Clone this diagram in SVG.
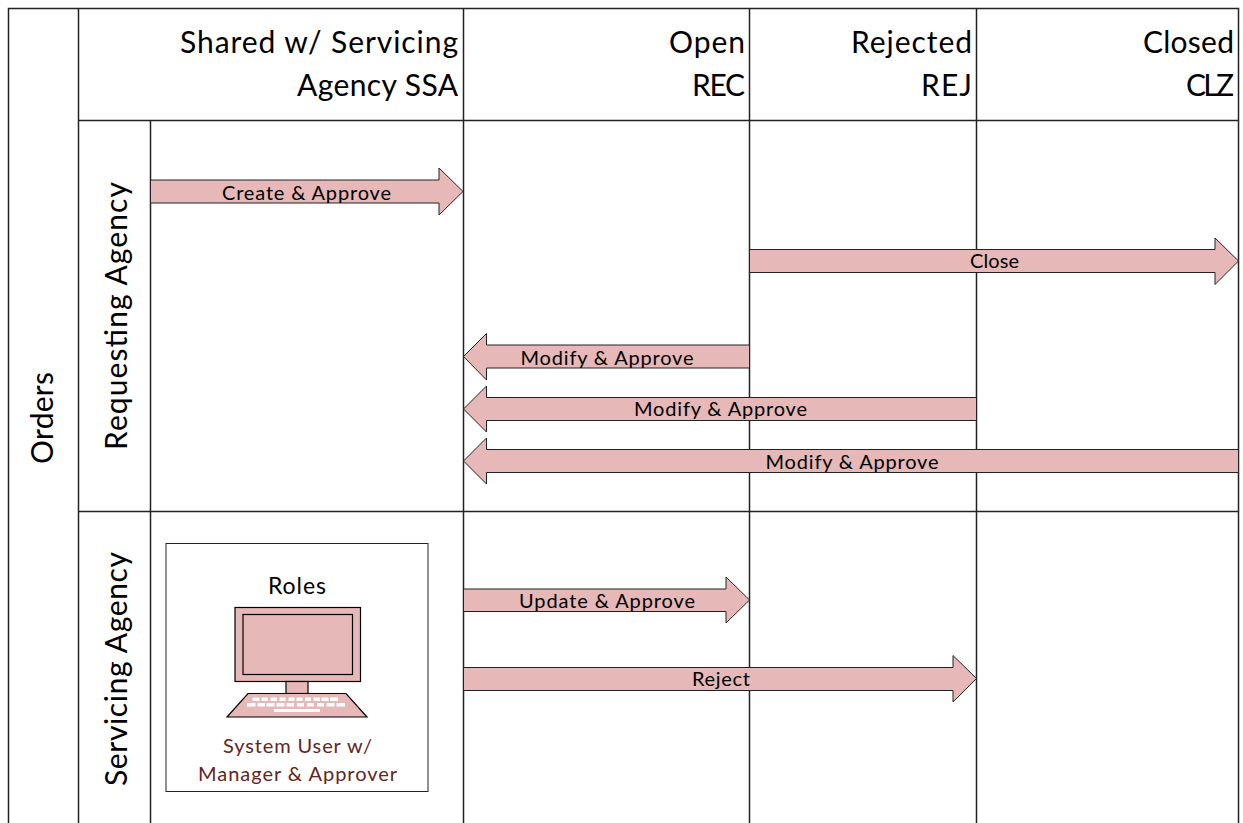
<svg xmlns="http://www.w3.org/2000/svg" width="1243" height="823" viewBox="0 0 1243 823">
<style>
text{font-family:Lato,"Open Sans",sans-serif;fill:#000}
.hd{font-size:30px;text-anchor:end}
.sw{font-size:30px;text-anchor:middle}
.lb{font-size:20px;text-anchor:middle}
.ln{stroke:#222;stroke-width:1.5;fill:none}
.ar{fill:#e6b8b7;stroke:#222;stroke-width:1}
.cp{fill:#e6b8b7;stroke:#000;stroke-width:1.2}
.k{fill:#fff}
</style>
<rect width="1243" height="823" fill="#fff"/>
<g id="grid">
<path class="ln" d="M8.500 823V8.500H1238.500V823M78.500 8.500V823M150.500 120.500V823M463.500 8.500V823M749.500 8.500V823M976.500 8.500V823M78.500 120.500H1238.500M78.500 511.500H1238.500"/>
</g>
<g id="pool-title"><text class="sw" textLength="92" transform="translate(53 418) rotate(-90)">Orders</text></g>
<g id="lane-requesting"><text class="sw" textLength="268" transform="translate(127 316) rotate(-90)">Requesting Agency</text></g>
<g id="lane-servicing"><text class="sw" textLength="234" transform="translate(127 669) rotate(-90)">Servicing Agency</text></g>
<g id="col-shared"><text class="hd" x="458" y="53" textLength="278">Shared w/ Servicing</text><text class="hd" x="458" y="96" textLength="161">Agency SSA</text></g>
<g id="col-open"><text class="hd" x="745" y="53" textLength="76">Open</text><text class="hd" x="745" y="96" textLength="53">REC</text></g>
<g id="col-rejected"><text class="hd" x="972" y="53" textLength="121">Rejected</text><text class="hd" x="972" y="96" textLength="51">REJ</text></g>
<g id="col-closed"><text class="hd" x="1234" y="53" textLength="91">Closed</text><text class="hd" x="1234" y="96" textLength="48">CLZ</text></g>
<g id="connectors">
<path class="ar" d="M150.500 180H439V168L463 191.500L439 215V203H150.500Z"/>
<path class="ar" d="M749.500 249.500H1215V238L1238.500 261L1215 284.500V272.500H749.500Z"/>
<path class="ar" d="M749.500 345H486.500V333.500L463.500 356.500L486.500 380V368H749.500Z"/>
<path class="ar" d="M976.500 397.500H486.500V386L463.500 409L486.500 432V420.500H976.500Z"/>
<path class="ar" d="M1238.500 449.500H486.500V438L463.500 461L486.500 484V472.500H1238.500Z"/>
<path class="ar" d="M463.500 589H726V577L749.500 600L726 623V611.500H463.500Z"/>
<path class="ar" d="M463.500 667.500H953V655.500L976.500 678.500L953 702V690.500H463.500Z"/>
<text class="lb" x="306.500" y="200" textLength="169">Create &amp; Approve</text>
<text class="lb" x="994.500" y="268" textLength="49">Close</text>
<text class="lb" x="607" y="365" textLength="173">Modify &amp; Approve</text>
<text class="lb" x="720.500" y="416" textLength="173">Modify &amp; Approve</text>
<text class="lb" x="852" y="469" textLength="173">Modify &amp; Approve</text>
<text class="lb" x="607" y="608" textLength="176">Update &amp; Approve</text>
<text class="lb" x="721" y="686" textLength="58">Reject</text>
</g>
<g id="roles">
<rect x="166" y="543.500" width="262" height="248" fill="#fff" stroke="#222" stroke-width="1"/>
<text x="297" y="594" font-size="23" text-anchor="middle" textLength="58">Roles</text>
<rect class="cp" x="235" y="607.500" width="125.500" height="74"/>
<rect class="cp" x="243" y="614.500" width="109.500" height="60"/>
<rect class="cp" x="286" y="681.500" width="22" height="12"/>
<path class="cp" d="M248 693.500H346L367 717H227Z"/>
<path class="k" d="M252.500 697.500h7v3.500h-7zM261.500 697.500h6.500v3.500h-6.500zM270.500 697.500h6.500v3.500h-6.500zM279.500 697.500h6v3.500h-6zM288.500 697.500h6v3.500h-6zM296.500 697.500h6v3.500h-6zM305 697.500h6v3.500h-6zM313.500 697.500h6.500v3.500h-6.500zM321.500 697.500h7v3.500h-7zM330 697.500h8v3.500h-8zM247 703h8.500v3.500h-8.500zM257.500 703h7.500v3.500h-7.500zM266.500 703h8v3.500h-8zM276.500 703h8v3.500h-8zM286.500 703h7.500v3.500h-7.500zM297 703h7v3.500h-7zM307 703h7v3.500h-7zM317 703h7v3.500h-7zM326.500 703h8v3.500h-8zM336.500 703h8.500v3.500h-8.500zM274 709h46v3h-46z"/>
<text x="297.500" y="753" font-size="20" text-anchor="middle" textLength="149" style="fill:#632523">System User w/</text>
<text x="297.500" y="781" font-size="20" text-anchor="middle" textLength="199" style="fill:#632523">Manager &amp; Approver</text>
</g>
</svg>
